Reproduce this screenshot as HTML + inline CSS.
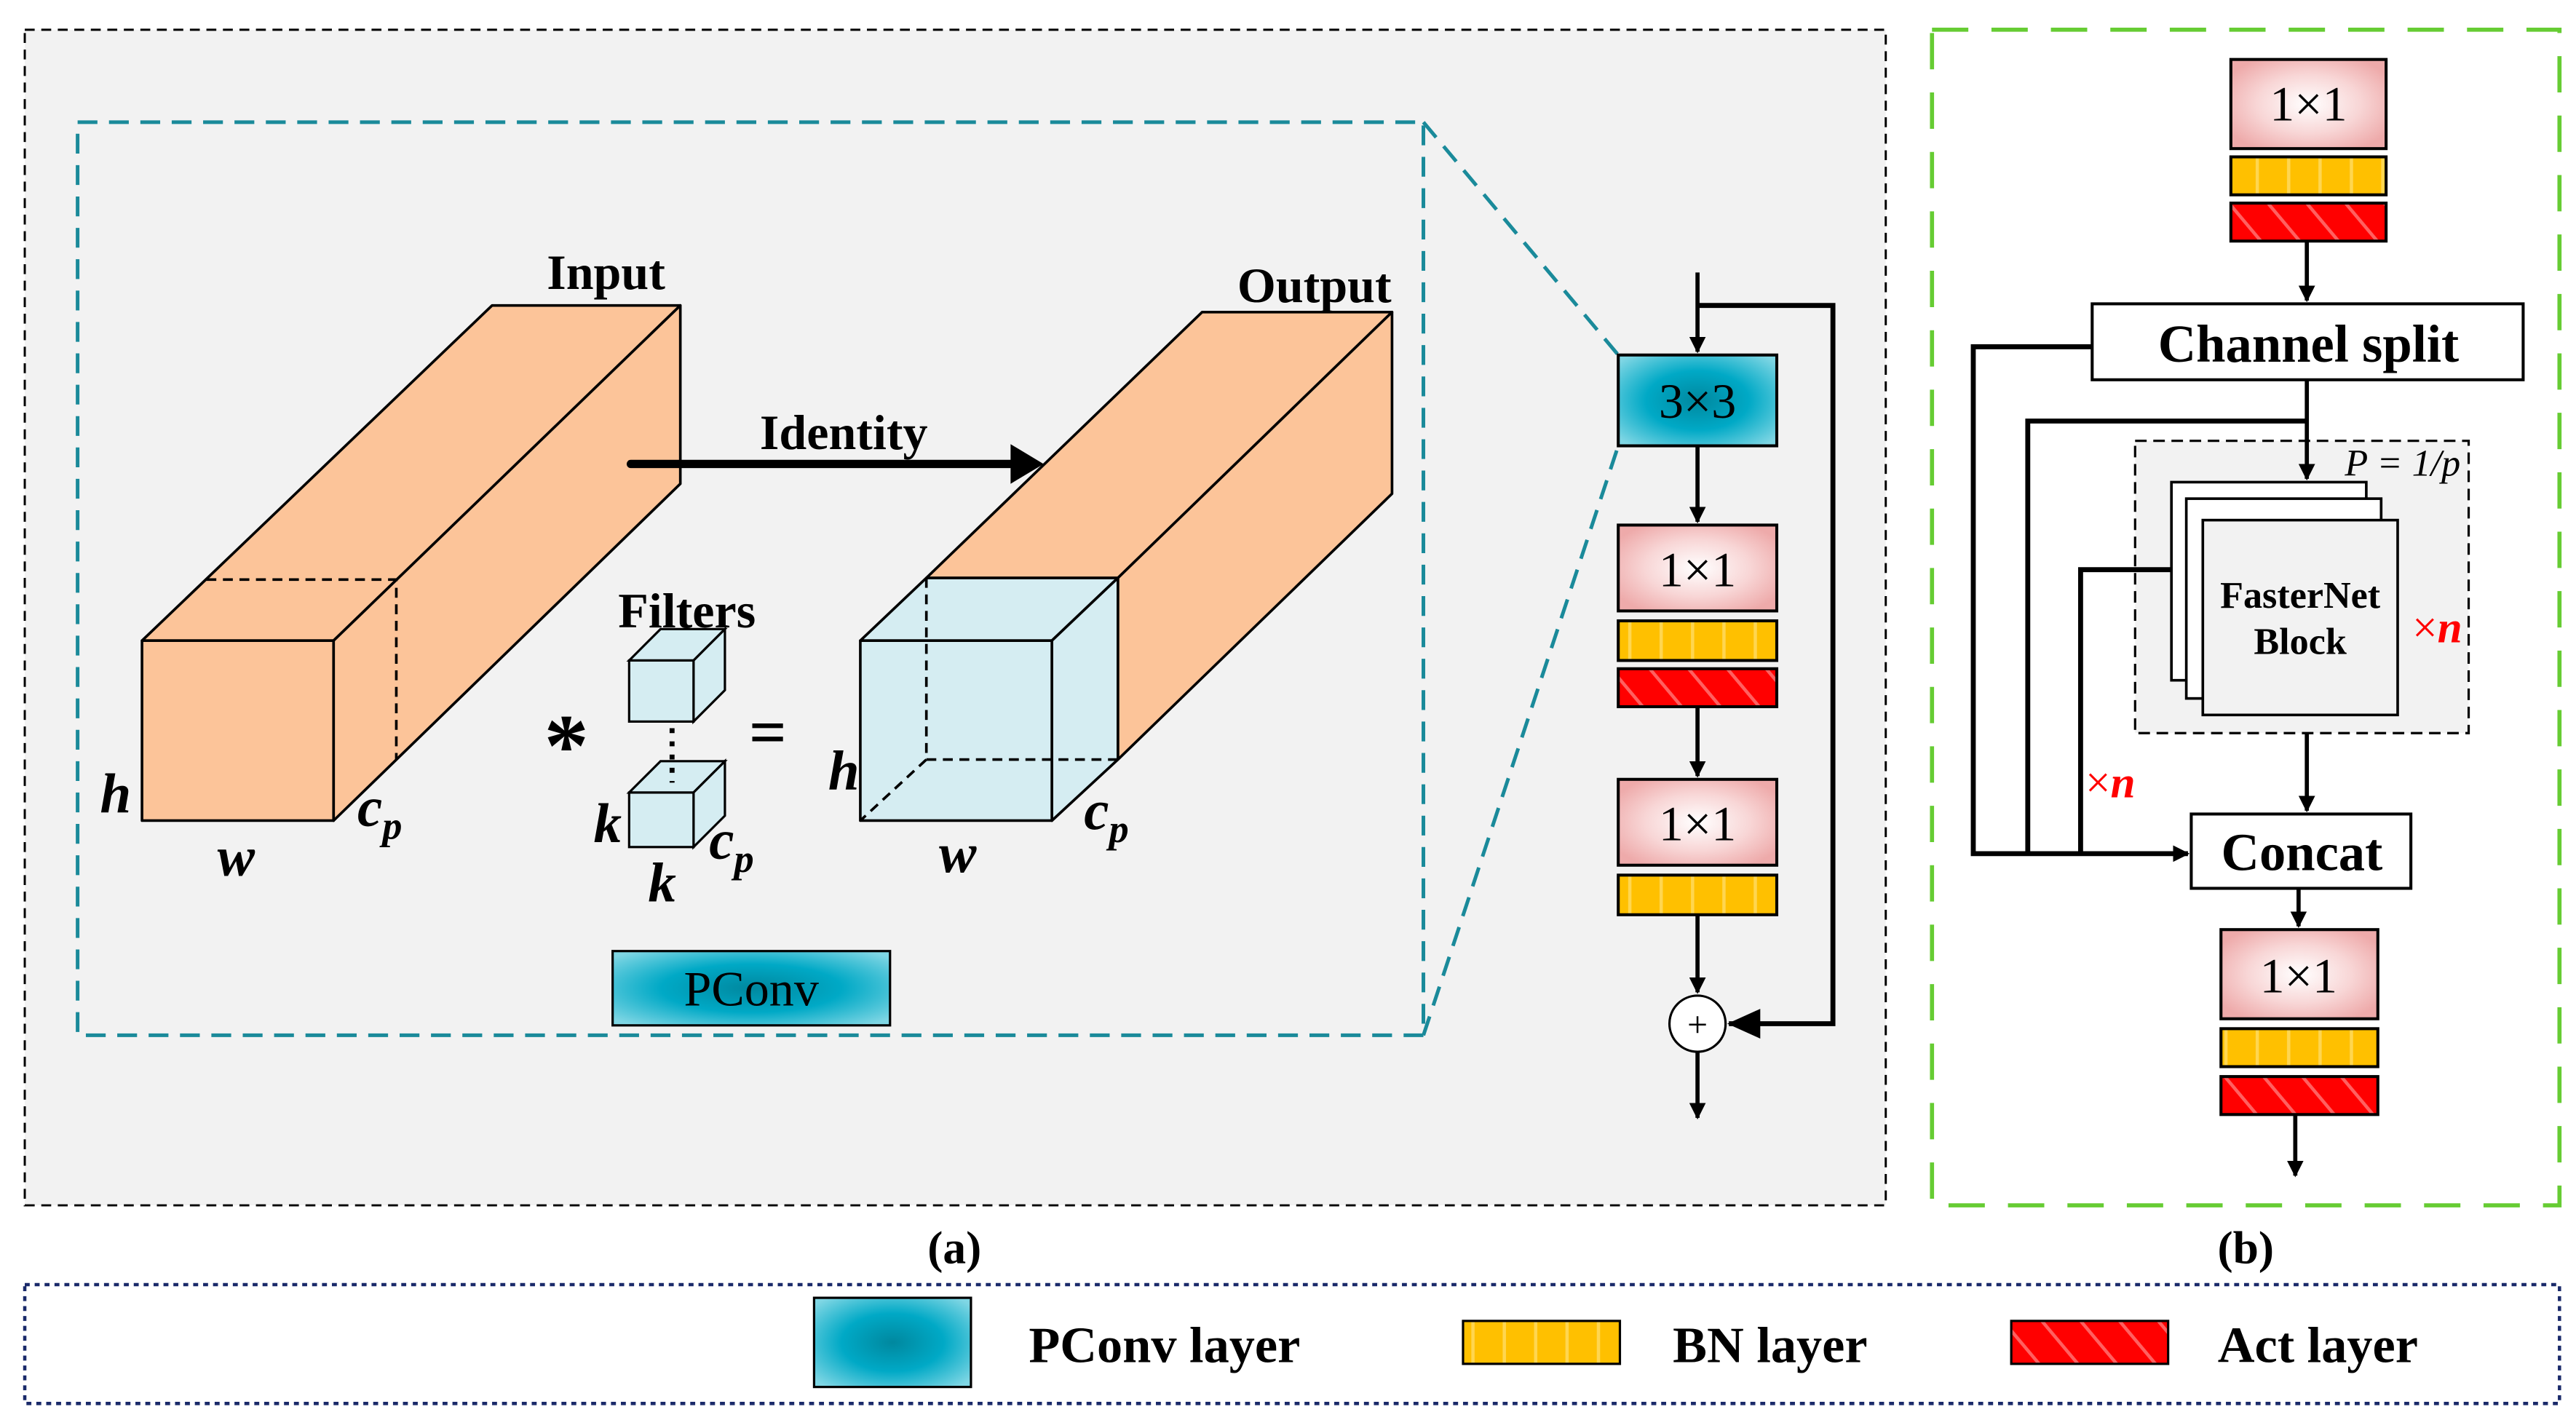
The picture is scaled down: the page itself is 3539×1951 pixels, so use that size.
<!DOCTYPE html>
<html><head><meta charset="utf-8"><style>html,body{margin:0;padding:0;background:#fff}svg{display:block}</style></head><body>
<svg width="3539" height="1951" viewBox="0 0 1560 860" xmlns="http://www.w3.org/2000/svg" font-family="Liberation Serif, serif">
<defs>
<radialGradient id="pink" cx="50%" cy="50%" r="60%"><stop offset="0" stop-color="#fff"/><stop offset="0.55" stop-color="#f8d6d6"/><stop offset="1" stop-color="#eeaaaa"/></radialGradient>
<radialGradient id="teal" cx="50%" cy="50%" r="65%"><stop offset="0" stop-color="#00889f"/><stop offset="0.5" stop-color="#00a9c6"/><stop offset="1" stop-color="#7fd6e4"/></radialGradient>
<pattern id="yel" width="19" height="30" patternUnits="userSpaceOnUse"><rect width="19" height="30" fill="#ffc000"/><rect x="17" width="2" height="30" fill="#ffd650"/></pattern>
<pattern id="red" width="18" height="18" patternUnits="userSpaceOnUse" patternTransform="rotate(-40)"><rect width="18" height="18" fill="#f00"/><rect width="2" height="18" fill="#ff6060"/></pattern>
<marker id="ah" markerWidth="10" markerHeight="10" refX="9" refY="5" orient="auto" markerUnits="userSpaceOnUse"><path d="M0,0 L10,5 L0,10 z" fill="#000"/></marker>
<marker id="ahb" markerWidth="20" markerHeight="18" refX="19" refY="9" orient="auto" markerUnits="userSpaceOnUse"><path d="M0,0 L20,9 L0,18 z" fill="#000"/></marker>
</defs>

<rect x="15" y="18" width="1127" height="712" fill="#f2f2f2" stroke="#000" stroke-width="1.3" stroke-dasharray="6,4"/>
<rect x="47" y="74" width="815" height="553" fill="none" stroke="#1a8a9a" stroke-width="2.2" stroke-dasharray="12,7"/>
<line x1="862" y1="74" x2="980" y2="215" stroke="#1a8a9a" stroke-width="2.2" stroke-dasharray="12,7"/>
<line x1="862" y1="627" x2="980" y2="270" stroke="#1a8a9a" stroke-width="2.2" stroke-dasharray="12,7"/>

<g stroke="#000" stroke-width="1.6" stroke-linejoin="round">
<polygon points="86,388 298,185 412,185 202,388" fill="#fcc499"/>
<polygon points="202,388 412,185 412,293 202,497" fill="#fcc499"/>
<rect x="86" y="388" width="116" height="109" fill="#fcc499"/>
<path d="M125,351 H240 V460" fill="none" stroke-dasharray="6,4"/>
</g>
<g stroke="#000" stroke-width="1.6" stroke-linejoin="round">
<polygon points="561,350 728,189 843,189 677,350" fill="#fcc499"/>
<polygon points="677,350 843,189 843,299 677,460" fill="#fcc499"/>
<polygon points="521,388 561,350 677,350 637,388" fill="#d5edf2"/>
<polygon points="637,388 677,350 677,460 637,497" fill="#d5edf2"/>
<rect x="521" y="388" width="116" height="109" fill="#d5edf2"/>
<path d="M561,350 V460 H677 M561,460 L521,497" fill="none" stroke-dasharray="6,4"/>
</g>
<g stroke="#000" stroke-width="1.4" fill="#d5edf2">
<polygon points="381,400 400,381 439,381 420,400"/><polygon points="420,400 439,381 439,418 420,437"/><rect x="381" y="400" width="39" height="37"/>
<polygon points="381,480 400,461 439,461 420,480"/><polygon points="420,480 439,461 439,494 420,513"/><rect x="381" y="480" width="39" height="33"/>
</g>
<line x1="407" y1="441" x2="407" y2="474" stroke="#000" stroke-width="3" stroke-dasharray="3,5"/>
<line x1="382" y1="281" x2="615" y2="281" stroke="#000" stroke-width="5" stroke-linecap="round"/>
<path d="M612,269 L632,281 L612,293 z"/>
<g font-weight="bold" font-size="30" text-anchor="middle">
<text x="367" y="175">Input</text>
<text x="796" y="183">Output</text>
<text x="511" y="272">Identity</text>
<text x="416" y="380">Filters</text>
<text x="343" y="470" font-size="54">*</text>
<text x="465" y="457" font-size="40">=</text>
</g>
<g font-weight="bold" font-style="italic" font-size="34" text-anchor="middle">
<text x="70" y="492">h</text><text x="143" y="530">w</text>
<text x="230" y="500">c<tspan font-size="24" dy="8">p</tspan></text>
<text x="368" y="510">k</text><text x="401" y="546">k</text>
<text x="443" y="520">c<tspan font-size="24" dy="8">p</tspan></text>
<text x="511" y="478">h</text><text x="580" y="528">w</text>
<text x="670" y="502">c<tspan font-size="24" dy="8">p</tspan></text>
</g>
<rect x="371" y="576" width="168" height="45" fill="url(#teal)" stroke="#000" stroke-width="1.4"/>
<text x="455" y="609" font-size="30" text-anchor="middle">PConv</text>

<g stroke="#000" stroke-width="2.5" fill="none">
<line x1="1028" y1="165" x2="1028" y2="213" marker-end="url(#ah)"/>
<polyline points="1028,185 1110,185 1110,620 1047,620" marker-end="url(#ahb)" stroke-width="3"/>
<line x1="1028" y1="270" x2="1028" y2="316" marker-end="url(#ah)"/>
<line x1="1028" y1="428" x2="1028" y2="470" marker-end="url(#ah)"/>
<line x1="1028" y1="554" x2="1028" y2="601" marker-end="url(#ah)"/>
<line x1="1028" y1="637" x2="1028" y2="677" marker-end="url(#ah)"/>
</g>
<circle cx="1028" cy="620" r="17" fill="#fff" stroke="#000" stroke-width="1.4"/>
<text x="1028" y="628" font-size="22" text-anchor="middle">+</text>
<g stroke="#000" stroke-width="1.8">
<rect x="980" y="215" width="96" height="55" fill="url(#teal)"/>
<rect x="980" y="318" width="96" height="52" fill="url(#pink)"/>
<rect x="980" y="376" width="96" height="24" fill="url(#yel)"/>
<rect x="980" y="405" width="96" height="23" fill="url(#red)"/>
<rect x="980" y="472" width="96" height="52" fill="url(#pink)"/>
<rect x="980" y="530" width="96" height="24" fill="url(#yel)"/>
</g>
<g font-size="30" text-anchor="middle">
<text x="1028" y="253">3×3</text><text x="1028" y="355">1×1</text><text x="1028" y="509">1×1</text>
</g>

<rect x="1170" y="18" width="380" height="712" fill="#fff" stroke="#66cc33" stroke-width="2.5" stroke-dasharray="22,14"/>
<rect x="1293" y="267" width="202" height="177" fill="#f2f2f2" stroke="#000" stroke-width="1.4" stroke-dasharray="7,4"/>
<g stroke="#000" stroke-width="2.5" fill="none">
<line x1="1397" y1="146" x2="1397" y2="182" marker-end="url(#ah)"/>
<line x1="1397" y1="230" x2="1397" y2="290" marker-end="url(#ah)"/>
<polyline points="1267,210 1195,210 1195,517 1325,517" marker-end="url(#ah)" stroke-width="3"/>
<polyline points="1397,255 1228,255 1228,517" stroke-width="3"/>
<polyline points="1315,345 1260,345 1260,517" stroke-width="3"/>
<line x1="1397" y1="444" x2="1397" y2="491" marker-end="url(#ah)"/>
<line x1="1392" y1="538" x2="1392" y2="561" marker-end="url(#ah)"/>
<line x1="1390" y1="675" x2="1390" y2="712" marker-end="url(#ah)"/>
</g>
<line x1="1315" y1="345" x2="1334" y2="345" stroke="#000" stroke-width="1" stroke-dasharray="1,2"/>
<g stroke="#000" stroke-width="1.6" fill="#f2f2f2">
<rect x="1315" y="292" width="118" height="120" fill="#fff"/>
<rect x="1324" y="302" width="118" height="121" fill="#fff"/>
<rect x="1334" y="315" width="118" height="118"/>
</g>
<g font-weight="bold" font-size="23" text-anchor="middle"><text x="1393" y="368">FasterNet</text><text x="1393" y="396">Block</text></g>
<text x="1455" y="288" font-size="23" font-style="italic" text-anchor="middle">P = 1/p</text>
<text x="1476" y="389" font-size="27" fill="#f00" text-anchor="middle">×<tspan font-style="italic" font-weight="bold">n</tspan></text>
<text x="1278" y="483" font-size="27" fill="#f00" text-anchor="middle">×<tspan font-style="italic" font-weight="bold">n</tspan></text>
<g stroke="#000" stroke-width="1.8">
<rect x="1351" y="36" width="94" height="54" fill="url(#pink)"/>
<rect x="1351" y="95" width="94" height="23" fill="url(#yel)"/>
<rect x="1351" y="123" width="94" height="23" fill="url(#red)"/>
<rect x="1267" y="184" width="261" height="46" fill="#fff"/>
<rect x="1327" y="493" width="133" height="45" fill="#fff"/>
<rect x="1345" y="563" width="95" height="54" fill="url(#pink)"/>
<rect x="1345" y="623" width="95" height="23" fill="url(#yel)"/>
<rect x="1345" y="652" width="95" height="23" fill="url(#red)"/>
</g>
<g font-size="30" text-anchor="middle">
<text x="1398" y="73">1×1</text><text x="1392" y="601">1×1</text>
<text x="1398" y="219" font-weight="bold" font-size="32">Channel split</text>
<text x="1394" y="527" font-weight="bold" font-size="32">Concat</text>
</g>

<g font-size="28" font-weight="bold" text-anchor="middle"><text x="578" y="765">(a)</text><text x="1360" y="765">(b)</text></g>

<rect x="15" y="778" width="1535" height="72" fill="#fff" stroke="#1a2a6a" stroke-width="2" stroke-dasharray="3,3"/>
<rect x="493" y="786" width="95" height="54" fill="url(#teal)" stroke="#000" stroke-width="1.4"/>
<rect x="886" y="800" width="95" height="26" fill="url(#yel)" stroke="#000" stroke-width="1.4"/>
<rect x="1218" y="800" width="95" height="26" fill="url(#red)" stroke="#000" stroke-width="1.4"/>
<g font-size="31" font-weight="bold"><text x="623" y="825">PConv layer</text><text x="1013" y="825">BN layer</text><text x="1343" y="825">Act layer</text></g>
</svg>
</body></html>
